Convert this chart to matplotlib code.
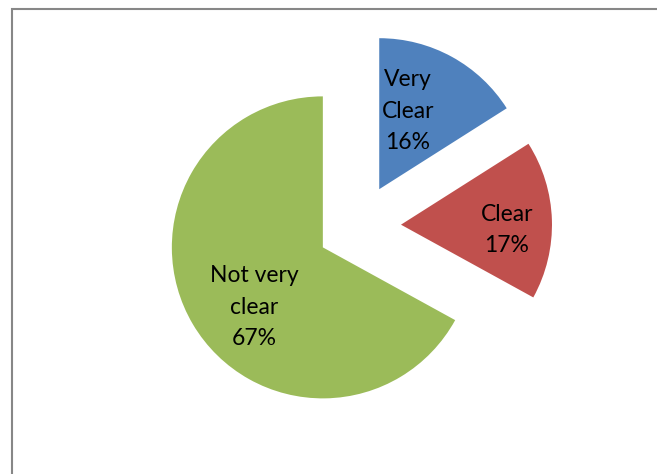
import matplotlib
matplotlib.use("Agg")
import matplotlib.pyplot as plt
import matplotlib.patches as patches

# data
categories = ["Very\nClear", "Clear", "Not very\nclear"]
shares = [16, 17, 67]
colors = ["#4F81BD", "#C0504D", "#9BBB59"]

# figure in pixel units (657x474)
W, H = 657, 474
fig = plt.figure(figsize=(W / 100, H / 100), dpi=100)
ax = fig.add_axes([0, 0, 1, 1])

wedges, _ = ax.pie(shares, colors=colors, startangle=90, counterclock=False,
                   center=(359, H - 226), radius=151, explode=[42, 42, 42],
                   wedgeprops=dict(linewidth=0))

ax.set_xlim(0, W)
ax.set_ylim(0, H)
ax.set_aspect("equal")
ax.axis("off")

# data labels (Excel style, placed inside the slices)
label_pos = [(408, H - 111), (507, H - 230), (254, H - 307)]
for name, val, (lx, ly) in zip(categories, shares, label_pos):
    ax.text(lx, ly, f"{name}\n{val}%", ha="center", va="center",
            fontsize=16.5, family="Lato", linespacing=1.6, color="black")

# chart area border (cut off at right / bottom)
border = patches.Rectangle((11.5, -50), 700, H - 8.5 + 50, fill=False,
                           edgecolor="#878787", linewidth=1.5)
ax.add_patch(border)

fig.savefig("out.png", dpi=100)
